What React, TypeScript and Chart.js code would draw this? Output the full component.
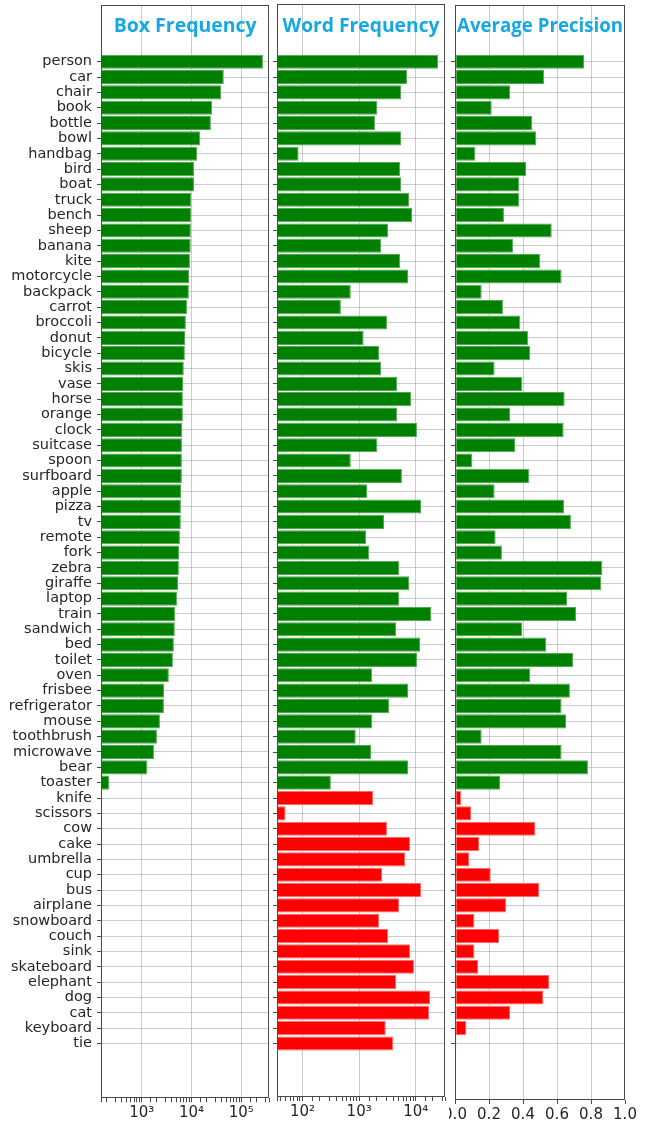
import React, { useEffect, useRef } from 'react';
import { Chart, registerables } from 'chart.js';

Chart.register(...registerables);

// ---------------- data ----------------
const seenClasses = [
  'person', 'car', 'chair', 'book', 'bottle', 'bowl', 'handbag', 'bird', 'boat', 'truck',
  'bench', 'sheep', 'banana', 'kite', 'motorcycle', 'backpack', 'carrot', 'broccoli', 'donut', 'bicycle',
  'skis', 'vase', 'horse', 'orange', 'clock', 'suitcase', 'spoon', 'surfboard', 'apple', 'pizza',
  'tv', 'remote', 'fork', 'zebra', 'giraffe', 'laptop', 'train', 'sandwich', 'bed', 'toilet',
  'oven', 'frisbee', 'refrigerator', 'mouse', 'toothbrush', 'microwave', 'bear', 'toaster',
];
const unseenClasses = [
  'knife', 'scissors', 'cow', 'cake', 'umbrella', 'cup', 'bus', 'airplane', 'snowboard', 'couch',
  'sink', 'skateboard', 'elephant', 'dog', 'cat', 'keyboard', 'tie',
];
const categories = [...seenClasses, ...unseenClasses];

// training boxes exist only for seen classes
const boxFrequency: (number | null)[] = [
  272000, 44500, 39500, 26000, 24500, 15000, 13000, 11200, 11200, 9900,
  9850, 9700, 9650, 9300, 8900, 8850, 8100, 7700, 7400, 7350,
  7000, 6750, 6700, 6700, 6450, 6420, 6400, 6400, 6150, 6120,
  6100, 5850, 5600, 5580, 5350, 5100, 4650, 4620, 4420, 4230,
  3500, 2800, 2790, 2320, 2020, 1760, 1300, 224,
  null, null, null, null, null, null, null, null, null, null,
  null, null, null, null, null, null, null,
];

const wordFrequency = [
  25000, 7000, 5500, 2100, 1900, 5500, 85, 5300, 5500, 7600,
  8600, 3250, 2450, 5300, 7300, 710, 475, 3100, 1200, 2250,
  2450, 4700, 8300, 4700, 10500, 2100, 710, 5700, 1380, 12400,
  2750, 1330, 1500, 5100, 7600, 5100, 18900, 4500, 11900, 10500,
  1700, 7300, 3400, 1700, 870, 1630, 7300, 316,
  1770, 50, 3100, 7950, 6500, 2550, 12400, 5100, 2250, 3250,
  7950, 9300, 4500, 17900, 17200, 2950, 4000,
];

const averagePrecision = [
  0.759, 0.525, 0.324, 0.216, 0.455, 0.478, 0.12, 0.418, 0.378, 0.378,
  0.288, 0.569, 0.341, 0.502, 0.627, 0.157, 0.282, 0.384, 0.431, 0.443,
  0.233, 0.396, 0.645, 0.324, 0.639, 0.353, 0.102, 0.437, 0.233, 0.641,
  0.682, 0.239, 0.276, 0.867, 0.861, 0.659, 0.712, 0.396, 0.537, 0.694,
  0.443, 0.676, 0.627, 0.653, 0.157, 0.627, 0.782, 0.265,
  0.037, 0.096, 0.473, 0.143, 0.084, 0.21, 0.496, 0.3, 0.114, 0.259,
  0.114, 0.137, 0.555, 0.52, 0.324, 0.067, 0.008,
];

const panelTitles = ['Box Frequency', 'Word Frequency', 'Average Precision'];
const apTickStep = 0.2;

// ---------------- style ----------------
const SEEN_FILL = '#008000';
const SEEN_EDGE = '#52a852';
const UNSEEN_FILL = '#ff0000';
const UNSEEN_EDGE = '#ff6a6a';
const GRID = 'rgba(160,160,160,0.55)';
const SPINE = '#4a4a4a';
const TEXT = '#262626';
const TITLE_COLOR = '#16a8e4';
const TITLE_FONT = '"Open Sans", "DejaVu Sans", sans-serif';
const TITLE_SIZE = 20;
const TITLE_BASELINE = 32;
const LABEL_FONT = { family: '"DejaVu Sans", sans-serif', size: 14.5 };
const TICK_FONT = { family: '"DejaVu Sans", sans-serif', size: 15 };
const FIRST_ROW_Y = 61.7;
const ROW_PX = 15.34;
const H = 1124;

const SUP: Record<string, string> = {
  '0': '⁰', '1': '¹', '2': '²', '3': '³', '4': '⁴', '5': '⁵', '6': '⁶', '7': '⁷', '8': '⁸', '9': '⁹', '-': '⁻',
};
const isPow10 = (v: number) => {
  if (!(v > 0)) return false;
  const e = Math.log10(v);
  return Math.abs(e - Math.round(e)) < 1e-6;
};
const powLabel = (v: number) =>
  '10' + String(Math.round(Math.log10(v))).split('').map((c) => SUP[c] || c).join('');

type PanelSpec = {
  title: string;
  values: (number | null)[];
  canvasLeft: number;
  canvasWidth: number;
  yWidth: number;
  padRight: number;
  top: number;
  bottom: number;
  xType: 'logarithmic' | 'linear';
  xMin: number;
  xMax: number;
  showLabels: boolean;
  titleWidth: number;
};

const panels: PanelSpec[] = [
  {
    title: panelTitles[0], values: boxFrequency, canvasLeft: 0, canvasWidth: 272, yWidth: 101,
    padRight: 2.7, top: 5, bottom: 1098.3, xType: 'logarithmic', xMin: 152, xMax: 365000,
    showLabels: true, titleWidth: 143,
  },
  {
    title: panelTitles[1], values: wordFrequency, canvasLeft: 271, canvasWidth: 178, yWidth: 6,
    padRight: 4, top: 4, bottom: 1097, xType: 'logarithmic', xMin: 35.3, xMax: 32900,
    showLabels: false, titleWidth: 157,
  },
  {
    title: panelTitles[2], values: averagePrecision, canvasLeft: 449, canvasWidth: 196, yWidth: 6,
    padRight: 20, top: 5, bottom: 1100, xType: 'linear', xMin: 0, xMax: 1,
    showLabels: false, titleWidth: 166,
  },
];

function Panel({ spec }: { spec: PanelSpec }) {
  const ref = useRef<HTMLCanvasElement | null>(null);

  useEffect(() => {
    const canvas = ref.current;
    if (!canvas) return;
    const nSeen = seenClasses.length;
    const data = categories
      .map((_, i) => ({ x: spec.values[i], y: i }))
      .filter((d) => d.x !== null && d.x !== undefined);

    const yMin = -(FIRST_ROW_Y - spec.top) / ROW_PX;
    const yMax = yMin + (spec.bottom - spec.top) / ROW_PX;
    const xHeight = H - spec.bottom;

    const overlay = {
      id: 'overlay',
      afterDraw(chart: any) {
        const { ctx, chartArea: a } = chart;
        ctx.save();
        ctx.strokeStyle = SPINE;
        ctx.lineWidth = 1;
        const l = Math.round(a.left) + 0.5;
        const t = Math.round(a.top) + 0.5;
        const r = Math.round(a.right) - 0.5;
        const b = Math.round(a.bottom) - 0.5;
        ctx.strokeRect(l, t, r - l, b - t);
        ctx.font = `bold ${TITLE_SIZE}px ${TITLE_FONT}`;
        const w = ctx.measureText(spec.title).width;
        ctx.translate((a.left + a.right) / 2, TITLE_BASELINE);
        ctx.scale(spec.titleWidth / w, 1);
        ctx.textAlign = 'center';
        ctx.textBaseline = 'alphabetic';
        ctx.fillStyle = TITLE_COLOR;
        ctx.fillText(spec.title, 0, 0);
        ctx.restore();
      },
    };

    const xScale: any = {
      type: spec.xType,
      position: 'bottom',
      min: spec.xMin,
      max: spec.xMax,
      z: 1,
      border: { display: false },
      grid: {
        color: (ctx: any) => {
          if (!ctx.tick) return 'transparent';
          const v = ctx.tick.value;
          if (spec.xType === 'logarithmic') return isPow10(v) ? GRID : 'transparent';
          return v > 0.001 && v < 0.999 ? GRID : 'transparent';
        },
        tickColor: SPINE,
        tickLength: 4,
        lineWidth: 1,
      },
      ticks: {
        autoSkip: false,
        maxRotation: 0,
        minRotation: 0,
        color: TEXT,
        font: TICK_FONT,
        padding: 2,
        callback: (v: any) => {
          const n = Number(v);
          if (spec.xType === 'logarithmic') return isPow10(n) ? powLabel(n) : '';
          return n.toFixed(1);
        },
      },
      afterFit: (s: any) => {
        s.height = xHeight;
        s.paddingLeft = 0;
        s.paddingRight = 0;
      },
    };
    if (spec.xType === 'linear') xScale.ticks.stepSize = apTickStep;

    const chart = new Chart(canvas, {
      type: 'bar',
      data: {
        datasets: [
          {
            data: data as any,
            backgroundColor: (ctx: any) => (ctx.raw && ctx.raw.y >= nSeen ? UNSEEN_FILL : SEEN_FILL),
            borderColor: (ctx: any) => (ctx.raw && ctx.raw.y >= nSeen ? UNSEEN_EDGE : SEEN_EDGE),
            borderWidth: 1,
            borderSkipped: false,
            barPercentage: 0.92,
            categoryPercentage: 1,
          },
        ],
      },
      options: {
        indexAxis: 'y',
        responsive: false,
        maintainAspectRatio: false,
        animation: false,
        events: [],
        layout: { padding: { top: spec.top, right: spec.padRight, left: 0, bottom: 0 } },
        plugins: { legend: { display: false }, tooltip: { enabled: false }, title: { display: false } },
        scales: {
          x: xScale,
          y: {
            type: 'linear',
            reverse: true,
            min: yMin,
            max: yMax,
            offset: false,
            z: 1,
            border: { display: false },
            afterBuildTicks: (s: any) => {
              s.ticks = categories.map((_, i) => ({ value: i }));
            },
            grid: {
              offset: false,
              color: GRID,
              lineWidth: 1,
              tickColor: SPINE,
              tickLength: 4,
              drawTicks: true,
            },
            ticks: {
              display: spec.showLabels,
              autoSkip: false,
              color: TEXT,
              font: LABEL_FONT,
              padding: 5,
              callback: (v: any) => categories[Math.round(Number(v))] ?? '',
            },
            afterFit: (s: any) => {
              s.width = spec.yWidth;
              s.paddingTop = 0;
              s.paddingBottom = 0;
            },
          } as any,
        },
      },
      plugins: [overlay],
    } as any);

    return () => chart.destroy();
  }, [spec]);

  return (
    <canvas
      ref={ref}
      width={spec.canvasWidth}
      height={H}
      style={{ position: 'absolute', left: spec.canvasLeft, top: 0 }}
    />
  );
}

export default function App() {
  return (
    <div style={{ position: 'absolute', left: 0, top: 0, width: 645, height: H, background: '#ffffff', overflow: 'hidden' }}>
      {panels.map((p, i) => (
        <Panel key={i} spec={p} />
      ))}
    </div>
  );
}
